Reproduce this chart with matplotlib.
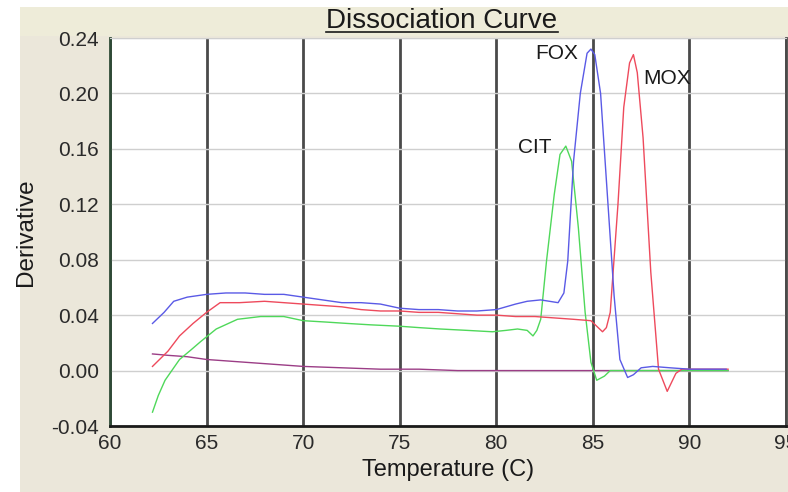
import matplotlib
matplotlib.use("Agg")
import matplotlib.pyplot as plt
from matplotlib.patches import Rectangle
from matplotlib.lines import Line2D

plt.rcParams['font.family'] = ['Liberation Sans', 'DejaVu Sans']

# FOX (blue)
fox_t = [62.2, 62.8, 63.3, 64.0, 65.0, 66.0, 67.0, 68.0, 69.0, 70.0, 71.0, 72.0,
         73.0, 74.0, 75.0, 76.0, 77.0, 78.0, 79.0, 80.0, 81.0, 81.6, 82.3, 83.2,
         83.5, 83.7, 84.0, 84.35, 84.7, 84.9, 85.1, 85.4, 85.75, 86.1, 86.4, 86.8,
         87.1, 87.5, 88.1, 89.0, 90.0, 91.0, 91.9]
fox_d = [0.034, 0.042, 0.050, 0.053, 0.055, 0.056, 0.056, 0.055, 0.055, 0.053, 0.051, 0.049,
         0.049, 0.048, 0.045, 0.044, 0.044, 0.043, 0.043, 0.044, 0.048, 0.050, 0.051, 0.049,
         0.056, 0.079, 0.151, 0.200, 0.229, 0.232, 0.228, 0.200, 0.127, 0.054, 0.008, -0.005,
         -0.003, 0.002, 0.003, 0.002, 0.001, 0.001, 0.001]

# MOX (red)
mox_t = [62.2, 63.0, 63.6, 64.3, 65.0, 65.7, 66.7, 68.0, 69.0, 70.0, 71.0, 72.0, 73.0,
         74.0, 75.0, 76.0, 77.0, 78.0, 79.0, 80.0, 81.0, 82.0, 83.0, 84.0, 84.9, 85.2,
         85.5, 85.7, 85.9, 86.3, 86.6, 86.9, 87.1, 87.3, 87.6, 88.0, 88.4, 88.85, 89.3,
         89.6, 90.5, 91.5, 92.0]
mox_d = [0.003, 0.014, 0.025, 0.034, 0.042, 0.049, 0.049, 0.050, 0.049, 0.048, 0.047, 0.046, 0.044,
         0.043, 0.043, 0.042, 0.042, 0.041, 0.040, 0.040, 0.039, 0.039, 0.038, 0.037, 0.036, 0.032,
         0.028, 0.031, 0.042, 0.120, 0.190, 0.222, 0.228, 0.215, 0.168, 0.071, 0.001, -0.015, -0.002,
         0.001, 0.001, 0.001, 0.001]

# CIT (green)
cit_t = [62.2, 62.5, 62.85, 63.6, 64.2, 64.7, 65.5, 66.6, 67.8, 69.0, 70.0, 71.2, 72.3,
         73.5, 75.0, 76.0, 77.1, 78.5, 79.8, 80.5, 81.1, 81.6, 81.9, 82.1, 82.3, 82.6,
         83.0, 83.3, 83.6, 83.9, 84.25, 84.6, 84.9, 85.2, 85.6, 85.9, 87.0, 89.0, 92.0]
cit_d = [-0.030, -0.018, -0.007, 0.008, 0.015, 0.021, 0.030, 0.037, 0.039, 0.039, 0.036, 0.035, 0.034,
         0.033, 0.032, 0.031, 0.030, 0.029, 0.028, 0.029, 0.030, 0.029, 0.025, 0.029, 0.037, 0.079,
         0.127, 0.156, 0.162, 0.151, 0.103, 0.042, 0.006, -0.007, -0.004, 0.000, 0.000, 0.000, 0.000]

# no-template control (purple)
ntc_t = [62.2, 63.0, 64.0, 65.0, 66.0, 67.0, 68.0, 69.0, 70.0, 72.0, 74.0, 76.0, 78.0,
         80.0, 84.0, 88.0, 92.0]
ntc_d = [0.012, 0.011, 0.010, 0.008, 0.007, 0.006, 0.005, 0.004, 0.003, 0.002, 0.001, 0.001, 0.000,
         0.000, 0.000, 0.000, 0.000]

x_ticks = [60, 65, 70, 75, 80, 85, 90, 95]
y_ticks = [-0.04, 0.00, 0.04, 0.08, 0.12, 0.16, 0.20, 0.24]

fig = plt.figure(figsize=(7.88, 4.92), dpi=100, facecolor='white')
# beige panel behind the chart
fig.patches.append(Rectangle((20 / 788, 0), 1, 1 - 7 / 492, transform=fig.transFigure,
                             facecolor='#ebe7da', edgecolor='none', zorder=-10))
fig.patches.append(Rectangle((20 / 788, 1 - 36 / 492), 1, 29 / 492, transform=fig.transFigure,
                             facecolor='#eeecd9', edgecolor='none', zorder=-9))

ax = fig.add_axes([110 / 788, 1 - 426 / 492, 676 / 788, 388 / 492])
ax.set_facecolor('white')

ax.plot(ntc_t, ntc_d, color='#9b3d86', lw=1.0)
ax.plot(cit_t, cit_d, color='#4fd85a', lw=1.0)
ax.plot(mox_t, mox_d, color='#ee4a5c', lw=1.0)
ax.plot(fox_t, fox_d, color='#5a5ae6', lw=1.0)

ax.set_xlim(60, 95)
ax.set_ylim(-0.04, 0.24)
ax.set_xticks(x_ticks)
ax.set_yticks(y_ticks)
ax.set_yticklabels(['%.2f' % v for v in y_ticks])
ax.tick_params(length=0, labelsize=15, labelcolor='#2a2a2a')
ax.tick_params(axis='y', pad=8)
ax.tick_params(axis='x', pad=6)

ax.grid(axis='y', color='#cfcfcf', lw=1.0)
ax.grid(axis='x', color='#4a4a4a', lw=2.0)
ax.set_axisbelow(True)
ax.spines['left'].set_color('#2e4a36')
ax.spines['left'].set_linewidth(2.0)
ax.spines['bottom'].set_color('#1a1a1a')
ax.spines['bottom'].set_linewidth(2.0)
ax.spines['top'].set_color('#cfcfcf')
ax.spines['right'].set_color('#4a4a4a')
ax.spines['right'].set_linewidth(2.0)

ax.set_xlabel('Temperature (C)', fontsize=17, color='#1a1a1a', labelpad=4)
ax.set_ylabel('Derivative', fontsize=17.5, color='#1a1a1a', labelpad=10)

ax.text(84.25, 0.229, 'FOX', fontsize=15, ha='right', va='center', color='#1a1a1a')
ax.text(87.6, 0.211, 'MOX', fontsize=15, ha='left', va='center', color='#1a1a1a')
ax.text(82.85, 0.161, 'CIT', fontsize=15, ha='right', va='center', color='#1a1a1a')

title = fig.text(442 / 788, 1 - 21 / 492, 'Dissociation Curve', fontsize=20,
                 ha='center', va='center', color='#1a1a1a')

# underline the title
fig.canvas.draw()
bb = title.get_window_extent().transformed(fig.transFigure.inverted())
fig.lines.append(Line2D([bb.x0, bb.x1], [bb.y0 + 0.004, bb.y0 + 0.004], transform=fig.transFigure,
                        color='#1a1a1a', lw=1.2))

fig.savefig('out.png', dpi=100, facecolor=fig.get_facecolor())
